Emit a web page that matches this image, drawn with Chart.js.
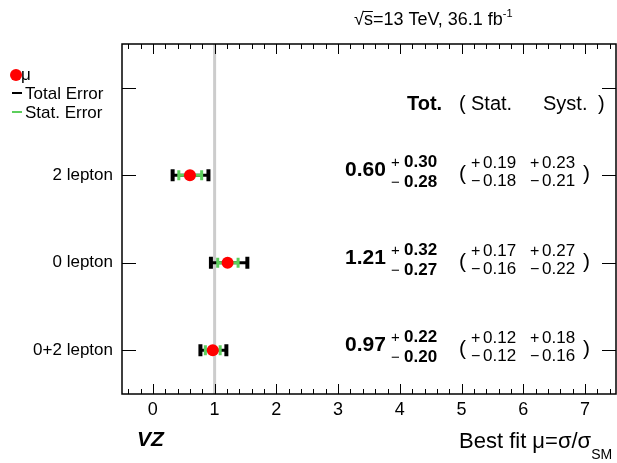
<!DOCTYPE html>
<html>
<head>
<meta charset="utf-8">
<script src="https://cdn.jsdelivr.net/npm/chart.js@4"></script>
<style>
  html, body { margin: 0; padding: 0; background: #fff; }
  #wrap { width: 617px; height: 463px; }
</style>
</head>
<body>
<div id="wrap"><canvas id="fit"></canvas></div>
<script>
// channel rows, top to bottom
const categories = ['2 lepton', '0 lepton', '0+2 lepton'];
const rowPos = [2.5, 1.5, 0.5];
const headerPos = 3.5;

// signal strength and uncertainties
const mu = [0.60, 1.21, 0.97];
const totUp = [0.30, 0.32, 0.22];
const totDn = [0.28, 0.27, 0.20];
const statUp = [0.19, 0.17, 0.12];
const statDn = [0.18, 0.16, 0.12];
const systUp = [0.23, 0.27, 0.18];
const systDn = [0.21, 0.22, 0.16];

const xTicks = [0, 1, 2, 3, 4, 5, 6, 7];
const smValue = 1;

const FONT = '"Liberation Sans", Arial, Helvetica, sans-serif';
Chart.defaults.font.family = FONT;
Chart.defaults.color = '#000';

const RED = '#ff0000';
const GREEN = '#5ccf5c';

const datasets = [];

// central values (drawn on top)
datasets.push({
  data: mu.map((m, i) => ({ x: m, y: rowPos[i] })),
  pointRadius: 6,
  pointBackgroundColor: RED,
  pointBorderColor: RED,
  pointBorderWidth: 0
});

// stat error bars
categories.forEach((c, i) => {
  datasets.push({
    data: [{ x: mu[i] - statDn[i], y: rowPos[i] }, { x: mu[i] + statUp[i], y: rowPos[i] }],
    showLine: true,
    borderColor: GREEN,
    borderWidth: 3,
    pointStyle: 'line',
    pointRotation: 90,
    pointRadius: 5,
    pointBorderColor: GREEN,
    pointBorderWidth: 3
  });
});

// total error bars
categories.forEach((c, i) => {
  datasets.push({
    data: [{ x: mu[i] - totDn[i], y: rowPos[i] }, { x: mu[i] + totUp[i], y: rowPos[i] }],
    showLine: true,
    borderColor: '#000',
    borderWidth: 3,
    pointStyle: 'line',
    pointRotation: 90,
    pointRadius: 6,
    pointBorderColor: '#000',
    pointBorderWidth: 4
  });
});

// SM reference line at mu = 1
datasets.push({
  data: [{ x: smValue, y: 0 }, { x: smValue, y: 4 }],
  showLine: true,
  borderColor: '#cccccc',
  borderWidth: 3,
  pointRadius: 0
});

function txt(ctx, s, x, y, size, opts) {
  opts = opts || {};
  ctx.font = (opts.style || '') + ' ' + (opts.weight || 'normal') + ' ' + size + 'px ' + FONT;
  ctx.textAlign = opts.align || 'left';
  ctx.textBaseline = opts.baseline || 'alphabetic';
  ctx.fillStyle = opts.color || '#000';
  ctx.fillText(s, x, y);
  return ctx.measureText(s).width;
}

// ROOT style frame with inward ticks
const framePlugin = {
  id: 'frame',
  afterDraw(chart) {
    const { ctx, chartArea: a, scales: { x, y } } = chart;
    ctx.save();
    ctx.strokeStyle = '#000';
    ctx.lineWidth = 1.5;
    ctx.strokeRect(a.left, a.top, a.right - a.left, a.bottom - a.top);
    ctx.lineWidth = 1;
    ctx.beginPath();
    for (let k = -2; k <= 37; k++) {
      const v = k * 0.2;
      if (v < x.min || v > x.max) continue;
      const px = Math.round(x.getPixelForValue(v)) + 0.5;
      const len = (k % 5 === 0) ? 10 : 5;
      ctx.moveTo(px, a.bottom); ctx.lineTo(px, a.bottom - len);
      ctx.moveTo(px, a.top); ctx.lineTo(px, a.top + len);
    }
    [headerPos].concat(rowPos).forEach(v => {
      const py = Math.round(y.getPixelForValue(v)) + 0.5;
      ctx.moveTo(a.left, py); ctx.lineTo(a.left + 14, py);
      ctx.moveTo(a.right, py); ctx.lineTo(a.right - 14, py);
    });
    ctx.stroke();
    ctx.restore();
  }
};

// result table, legend and captions
const textPlugin = {
  id: 'texts',
  afterDraw(chart) {
    const { ctx, scales: { y } } = chart;
    ctx.save();

    // header row
    const yh = y.getPixelForValue(headerPos) + 22;
    txt(ctx, 'Tot.', 407, yh, 20, { weight: 'bold' });
    txt(ctx, '(', 459, yh, 20);
    txt(ctx, 'Stat.', 471, yh, 20);
    txt(ctx, 'Syst.', 543, yh, 20);
    txt(ctx, ')', 598, yh, 20);

    categories.forEach((c, i) => {
      const y0 = y.getPixelForValue(rowPos[i]);
      txt(ctx, mu[i].toFixed(2), 345, y0 + 1, 21, { weight: 'bold' });
      txt(ctx, '+', 391, y0 - 8, 15);
      txt(ctx, '\u2212', 391, y0 + 12, 15);
      txt(ctx, totUp[i].toFixed(2), 404, y0 - 8, 17, { weight: 'bold' });
      txt(ctx, totDn[i].toFixed(2), 404, y0 + 12, 17, { weight: 'bold' });

      txt(ctx, '(', 459, y0 + 5, 21);
      txt(ctx, ')', 583, y0 + 5, 21);
      txt(ctx, '+', 471, y0 - 7, 16);
      txt(ctx, '\u2212', 471, y0 + 11, 16);
      txt(ctx, statUp[i].toFixed(2), 483, y0 - 7, 17);
      txt(ctx, statDn[i].toFixed(2), 483, y0 + 11, 17);
      txt(ctx, '+', 530, y0 - 7, 16);
      txt(ctx, '\u2212', 530, y0 + 11, 16);
      txt(ctx, systUp[i].toFixed(2), 542, y0 - 7, 17);
      txt(ctx, systDn[i].toFixed(2), 542, y0 + 11, 17);
    });

    // legend
    ctx.fillStyle = RED;
    ctx.beginPath();
    ctx.arc(16, 75, 6, 0, Math.PI * 2);
    ctx.fill();
    txt(ctx, '\u03bc', 21, 80, 17);
    ctx.lineWidth = 2;
    ctx.strokeStyle = '#000';
    ctx.beginPath(); ctx.moveTo(12, 93); ctx.lineTo(22, 93); ctx.stroke();
    txt(ctx, 'Total Error', 25, 99, 17);
    ctx.strokeStyle = GREEN;
    ctx.beginPath(); ctx.moveTo(12, 112); ctx.lineTo(22, 112); ctx.stroke();
    txt(ctx, 'Stat. Error', 25, 118, 17);

    // energy and luminosity
    let xp = 354;
    xp += txt(ctx, '\u221a', xp, 25, 18);
    const sw = txt(ctx, 's', xp, 25, 18);
    ctx.strokeStyle = '#000';
    ctx.lineWidth = 1;
    ctx.beginPath(); ctx.moveTo(xp - 1, 11.5); ctx.lineTo(xp + sw, 11.5); ctx.stroke();
    xp += sw;
    xp += txt(ctx, '=13 TeV, 36.1 fb', xp, 25, 18);
    txt(ctx, '-1', xp, 17, 11);

    // axis captions
    txt(ctx, 'VZ', 137, 446, 21, { weight: 'bold', style: 'italic' });
    const w = txt(ctx, 'Best fit \u03bc=\u03c3/\u03c3', 459, 448, 22);
    txt(ctx, 'SM', 459 + w, 459, 14);

    ctx.restore();
  }
};

new Chart(document.getElementById('fit'), {
  type: 'scatter',
  data: { datasets },
  options: {
    responsive: true,
    maintainAspectRatio: false,
    animation: false,
    layout: { autoPadding: false, padding: { top: 44, right: 1, left: 0, bottom: 0 } },
    plugins: { legend: { display: false }, tooltip: { enabled: false } },
    scales: {
      x: {
        type: 'linear',
        min: -0.5,
        max: 7.5,
        afterBuildTicks: s => { s.ticks = xTicks.map(v => ({ value: v })); },
        afterFit: s => { s.height = 69; s.paddingLeft = 0; s.paddingRight = 0; },
        grid: { display: false, drawTicks: false },
        border: { display: false },
        ticks: { font: { size: 18 }, padding: 5, maxRotation: 0, autoSkip: false }
      },
      y: {
        type: 'linear',
        min: 0,
        max: 4,
        afterBuildTicks: s => { s.ticks = rowPos.map(v => ({ value: v })); },
        afterFit: s => { s.width = 122; s.paddingTop = 0; s.paddingBottom = 0; },
        grid: { display: false, drawTicks: false },
        border: { display: false },
        ticks: {
          font: { size: 17 },
          padding: 9,
          callback: v => categories[rowPos.indexOf(v)]
        }
      }
    }
  },
  plugins: [framePlugin, textPlugin]
});
</script>
</body>
</html>
